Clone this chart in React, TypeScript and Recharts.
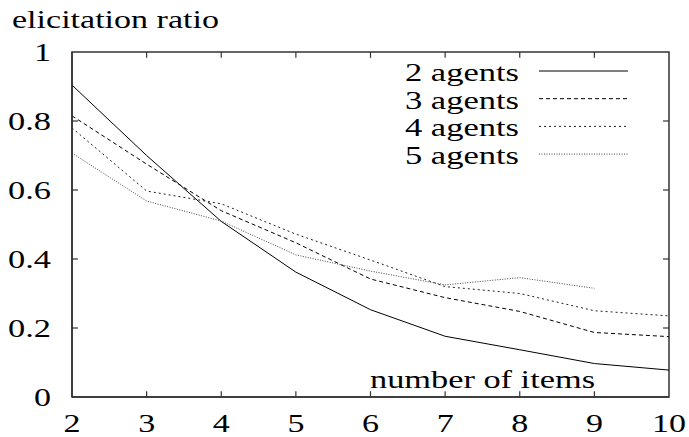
import { LineChart, Line, XAxis, YAxis, ReferenceArea, ReferenceLine } from 'recharts';

const ITEMS = [2, 3, 4, 5, 6, 7, 8, 9, 10];
const AGENTS2 = [0.904, 0.7, 0.509, 0.362, 0.253, 0.176, 0.137, 0.097, 0.078];
const AGENTS3 = [0.815, 0.675, 0.54, 0.447, 0.342, 0.288, 0.248, 0.187, 0.175];
const AGENTS4 = [0.78, 0.597, 0.56, 0.472, 0.397, 0.32, 0.3, 0.25, 0.235];
const AGENTS5 = [0.707, 0.568, 0.51, 0.412, 0.365, 0.325, 0.346, 0.315, null];

const X_TICKS = [2, 3, 4, 5, 6, 7, 8, 9, 10];
const Y_TICKS = [0, 0.2, 0.4, 0.6, 0.8, 1];

const SERIES = [
  { key: 'a2', name: '2 agents', dash: undefined as string | undefined, color: '#000' },
  { key: 'a3', name: '3 agents', dash: '4 3', color: '#000' },
  { key: 'a4', name: '4 agents', dash: '2 3', color: '#222' },
  { key: 'a5', name: '5 agents', dash: '1 1.5', color: '#444' },
];

const data = ITEMS.map((n, i) => ({
  n,
  a2: AGENTS2[i],
  a3: AGENTS3[i],
  a4: AGENTS4[i],
  a5: AGENTS5[i],
}));

const FONT = 'Liberation Serif';
const FRAME = '#333';
const AXIS = { stroke: FRAME, strokeWidth: 1.5 };
// inward tick length, in axis units (about 5-6 px)
const XT = 0.08;
const YT = 0.017;

// wide serif text like the scanned figure, stretched with textLength
function Txt({ x, y, anchor = 'start', w, children }: any) {
  return (
    <text
      x={x}
      y={y}
      textAnchor={anchor}
      fontFamily={FONT}
      fontSize={25}
      fill="#000"
      textLength={w}
      lengthAdjust="spacingAndGlyphs"
    >
      {children}
    </text>
  );
}

// widths in px: about 34 per em at this size
const em = (s: string) => Math.round(s.length * 0.5 * 34 - (s.includes('.') ? 8.5 : 0));

const XTick = (p: any) => {
  const s = String(p.payload.value);
  return <Txt x={p.x} y={p.y} anchor="middle" w={em(s)}>{s}</Txt>;
};
const YTick = (p: any) => {
  const s = String(p.payload.value);
  return <Txt x={p.x} y={p.y + 9} anchor="end" w={em(s)}>{s}</Txt>;
};

export default function App() {
  return (
    <div style={{ position: 'absolute', left: 0, top: 0, width: 689, height: 437, background: '#fff' }}>
      <LineChart width={689} height={437} data={data} margin={{ top: 52, right: 20, bottom: 0, left: 0 }}>
        <XAxis
          dataKey="n"
          type="number"
          domain={[2, 10]}
          ticks={X_TICKS}
          height={40}
          axisLine={AXIS}
          tickLine={false}
          tickSize={0}
          tickMargin={35}
          tick={XTick}
        />
        <YAxis
          domain={[0, 1]}
          ticks={Y_TICKS}
          width={72}
          axisLine={AXIS}
          tickLine={false}
          tickSize={0}
          tickMargin={21}
          tick={YTick}
        />
        <ReferenceArea x1={2} x2={10} y1={0} y2={1} fill="none" stroke={FRAME} strokeWidth={1.5} ifOverflow="visible" />
        {X_TICKS.slice(1, -1).map((t) => (
          <ReferenceLine key={'xb' + t} segment={[{ x: t, y: 0 }, { x: t, y: YT }]} stroke={FRAME} strokeWidth={1.2} />
        ))}
        {X_TICKS.slice(1, -1).map((t) => (
          <ReferenceLine key={'xt' + t} segment={[{ x: t, y: 1 }, { x: t, y: 1 - YT }]} stroke={FRAME} strokeWidth={1.2} />
        ))}
        {Y_TICKS.slice(1, -1).map((t) => (
          <ReferenceLine key={'yl' + t} segment={[{ x: 2, y: t }, { x: 2 + XT, y: t }]} stroke={FRAME} strokeWidth={1.2} />
        ))}
        {Y_TICKS.slice(1, -1).map((t) => (
          <ReferenceLine key={'yr' + t} segment={[{ x: 10, y: t }, { x: 10 - XT, y: t }]} stroke={FRAME} strokeWidth={1.2} />
        ))}
        {SERIES.map((s) => (
          <Line
            key={s.key}
            type="linear"
            dataKey={s.key}
            stroke={s.color}
            strokeWidth={1}
            strokeDasharray={s.dash}
            dot={false}
            activeDot={false}
            connectNulls={false}
            isAnimationActive={false}
          />
        ))}
      </LineChart>
      <svg width={689} height={437} style={{ position: 'absolute', left: 0, top: 0, pointerEvents: 'none' }}>
        <Txt x={12} y={28} w={207}>elicitation ratio</Txt>
        <Txt x={370} y={388} w={225}>number of items</Txt>
        {SERIES.map((s, i) => (
          <g key={s.key}>
            <Txt x={405} y={81 + i * 27.7} w={114}>{s.name}</Txt>
            <line
              x1={539}
              x2={628}
              y1={71 + i * 27.7}
              y2={71 + i * 27.7}
              stroke={s.color}
              strokeWidth={1}
              strokeDasharray={s.dash}
            />
          </g>
        ))}
      </svg>
    </div>
  );
}
